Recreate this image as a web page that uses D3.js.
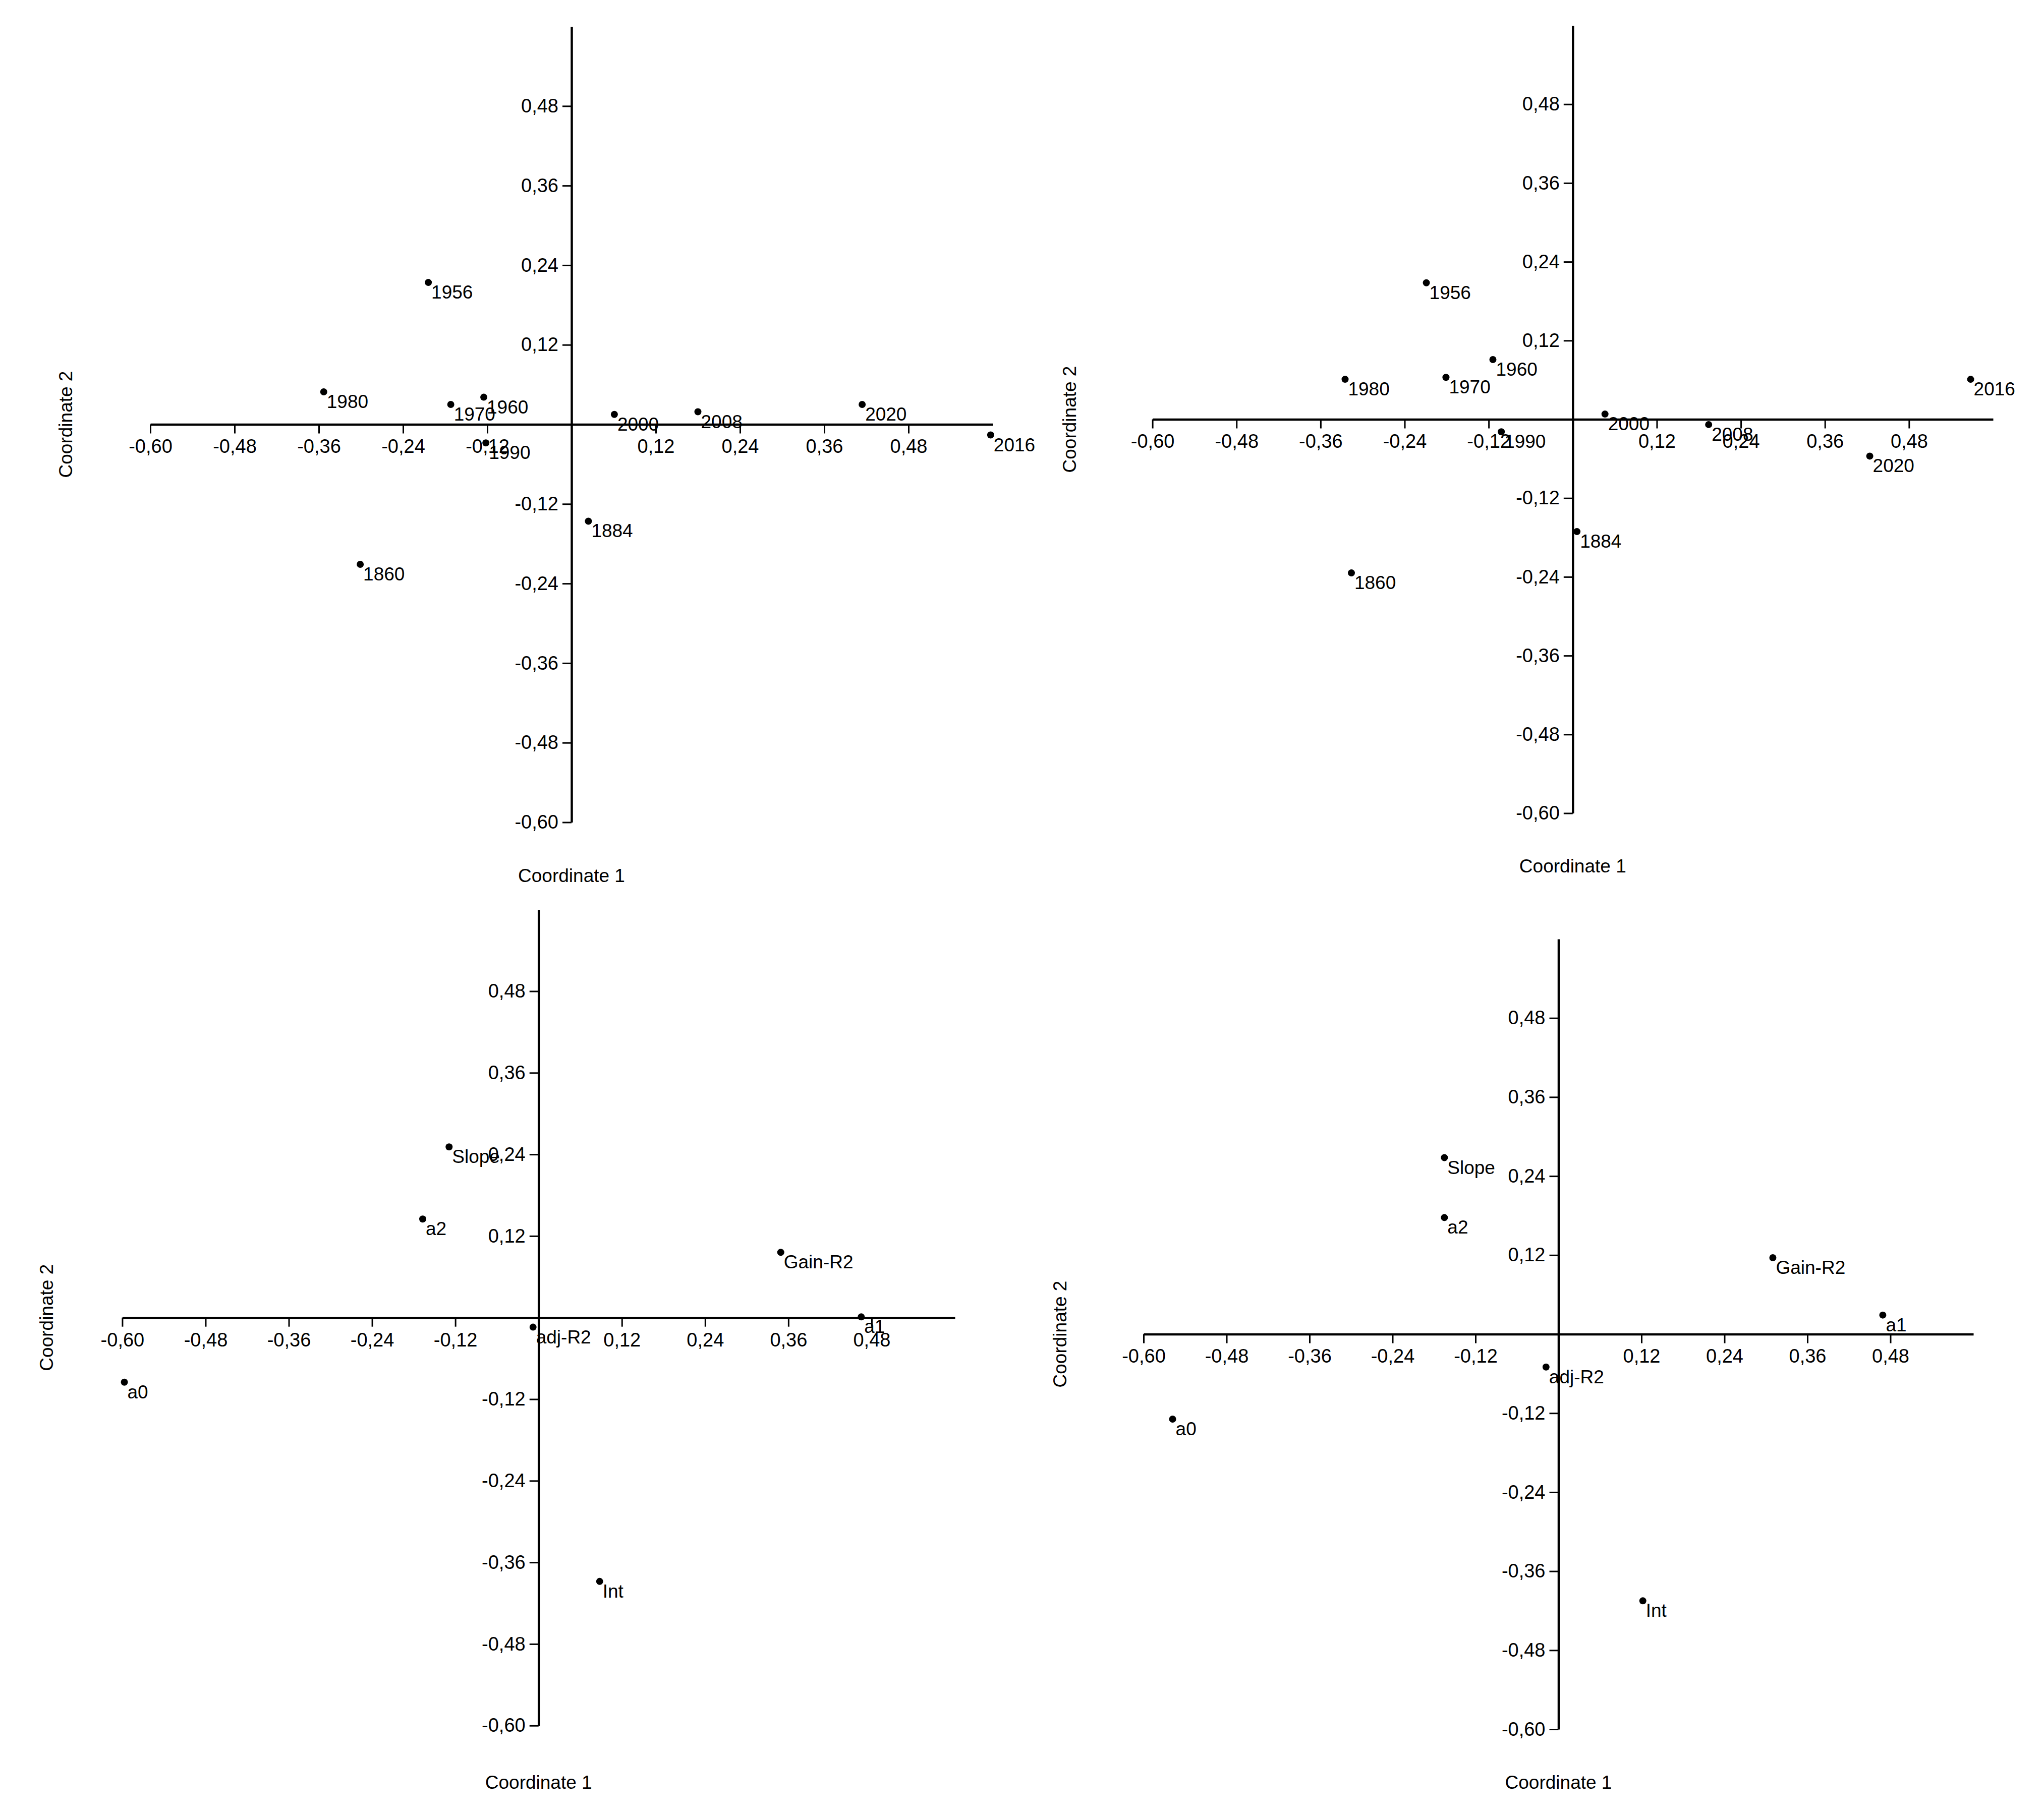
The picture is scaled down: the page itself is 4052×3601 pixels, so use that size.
<!DOCTYPE html>
<html>
<head>
<meta charset="utf-8">
<script src="https://cdn.jsdelivr.net/npm/d3@7"></script>
<style>
  body { margin: 0; background: #fff; }
  svg { display: block; font-family: "Liberation Sans", Arial, sans-serif; }
  .axis .domain { stroke: #000; stroke-width: 4.5; }
  .axis .tick line { stroke: #000; stroke-width: 3; }
  .axis .tick text { font-size: 38px; fill: #000; }
</style>
</head>
<body>
<svg id="chart" width="4052" height="3601"></svg>
<script>
//Data
const yearLabels = ["1956", "1980", "1970", "1960", "1990", "2000", "2008", "2020", "2016", "1884", "1860"];
const yearCoord1A = [-0.204, -0.353, -0.172, -0.125, -0.122, 0.061, 0.180, 0.414, 0.597, 0.024, -0.301];
const yearCoord2A = [0.214, 0.049, 0.030, 0.041, -0.028, 0.015, 0.019, 0.030, -0.016, -0.146, -0.211];
const yearCoord1B = [-0.209, -0.325, -0.181, -0.114, -0.102, 0.046, 0.194, 0.424, 0.568, 0.006, -0.316];
const yearCoord2B = [0.208, 0.061, 0.064, 0.091, -0.019, 0.008, -0.008, -0.056, 0.061, -0.171, -0.234];

const paramLabels = ["Slope", "a2", "Gain-R2", "a1", "adj-R2", "a0", "Int"];
const paramCoord1A = [-0.129, -0.167, 0.349, 0.465, -0.008, -0.597, 0.088];
const paramCoord2A = [0.251, 0.145, 0.096, 0.001, -0.014, -0.095, -0.388];
const paramCoord1B = [-0.165, -0.165, 0.310, 0.469, -0.018, -0.558, 0.122];
const paramCoord2B = [0.268, 0.177, 0.116, 0.029, -0.050, -0.129, -0.405];

const tickValues = [-0.60, -0.48, -0.36, -0.24, -0.12, 0.12, 0.24, 0.36, 0.48];
const axisDomain = [-0.60, 0.60];
const axisTitles = ["Coordinate 1", "Coordinate 2"];

//Layout of each panel on the page (pixels)
const panels = [
  { labels: yearLabels, xs: yearCoord1A, ys: yearCoord2A,
    left: 298, right: 1968, top: 52.5, bottom: 1630.5, title1Y: 1736, title2X: 130 },
  { labels: yearLabels, xs: yearCoord1B, ys: yearCoord2B,
    left: 2284.6, right: 3951, top: 50.5, bottom: 1612.5, title1Y: 1717, title2X: 2120 },
  { labels: paramLabels, xs: paramCoord1A, ys: paramCoord2A,
    left: 242.4, right: 1893, top: 1803.7, bottom: 3421.7, title1Y: 3534, title2X: 92 },
  { labels: paramLabels, xs: paramCoord1B, ys: paramCoord2B,
    left: 2267, right: 3912, top: 1862, bottom: 3429, title1Y: 3534, title2X: 2101 },
];

//Comma decimal like the original
const locale = d3.formatLocale({
  decimal: ",", thousands: ".", grouping: [3], currency: ["", ""], minus: "-",
});
const fmt = locale.format(".2f");

const svg = d3.select("#chart");
svg.append("rect").attr("width", 4052).attr("height", 3601).attr("fill", "#fff");

const drawPanel = (p) => {
  const g = svg.append("g");
  const xScale = d3.scaleLinear().domain(axisDomain).range([p.left, p.right]);
  const yScale = d3.scaleLinear().domain(axisDomain).range([p.bottom, p.top]);

  //x axis crosses at y = 0
  const xAxis = d3.axisBottom(xScale)
    .tickValues(tickValues).tickFormat(fmt)
    .tickSize(18).tickSizeOuter(0).tickPadding(12);
  g.append("g")
    .attr("class", "axis")
    .attr("transform", `translate(0, ${yScale(0)})`)
    .call(xAxis);

  //y axis crosses at x = 0
  const yAxis = d3.axisLeft(yScale)
    .tickValues(tickValues).tickFormat(fmt)
    .tickSize(18).tickSizeOuter(0).tickPadding(8);
  g.append("g")
    .attr("class", "axis")
    .attr("transform", `translate(${xScale(0)}, 0)`)
    .call(yAxis);

  //Axis titles
  g.append("text")
    .attr("x", xScale(0))
    .attr("y", p.title1Y)
    .attr("dy", "0.35em")
    .attr("text-anchor", "middle")
    .attr("font-size", 37)
    .text(axisTitles[0]);
  g.append("text")
    .attr("transform", `translate(${p.title2X}, ${yScale(0)}) rotate(-90)`)
    .attr("dy", "0.35em")
    .attr("text-anchor", "middle")
    .attr("font-size", 37)
    .text(axisTitles[1]);

  //Points and labels
  const pts = p.labels.map((label, i) => ({ label: label, x: p.xs[i], y: p.ys[i] }));
  g.selectAll("circle.pt")
    .data(pts)
    .enter()
    .append("circle")
    .attr("class", "pt")
    .attr("cx", (d) => xScale(d.x))
    .attr("cy", (d) => yScale(d.y))
    .attr("r", 7)
    .attr("fill", "#000");
  g.selectAll("text.pt-label")
    .data(pts)
    .enter()
    .append("text")
    .attr("class", "pt-label")
    .attr("x", (d) => xScale(d.x) + 6)
    .attr("y", (d) => yScale(d.y) + 32)
    .attr("font-size", 37)
    .text((d) => d.label);
};

panels.forEach(drawPanel);
</script>
</body>
</html>
